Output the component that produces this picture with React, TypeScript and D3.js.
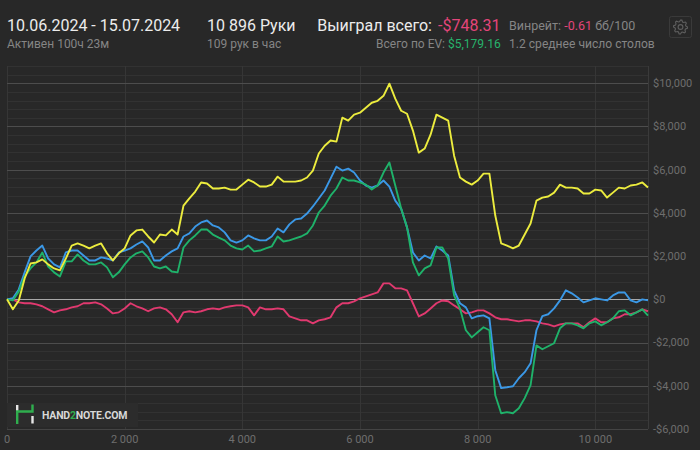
import React from 'react';
import * as d3 from 'd3';

// hands played (x) — every 100 hands plus the last hand
const hands = d3.range(0, 10801, 100).concat([10896]);

// cumulative winnings in $
const evWon = [
  0, -460, -50, 970, 1660, 1710, 1850, 1620, 1430, 1340,
  1890, 2490, 2590, 2490, 2360, 2490, 2590, 2130, 1800, 2130,
  2360, 2960, 3190, 3230, 2910, 2630, 3000, 2960, 3230, 3000,
  4340, 4670, 4990, 5410, 5360, 5130, 5130, 5170, 5080, 5080,
  5310, 5540, 5410, 5220, 5220, 5310, 5680, 5450, 5450, 5450,
  5500, 5640, 5960, 6750, 7110, 7350, 7300, 8410, 8270, 8550,
  8640, 8870, 9100, 9190, 9420, 9980, 9290, 8730, 8590, 7810,
  6790, 6980, 7620, 8550, 8410, 8270, 6650, 5640, 5450, 5310,
  5500, 5820, 5820, 3880, 2590, 2490, 2360, 2490, 3000, 3510,
  4570, 4710, 4760, 4940, 5310, 5170, 5170, 5130, 4900, 4900,
  5080, 5040, 4710, 4940, 5170, 5130, 5270, 5310, 5410, 5180,
];

const showdownWon = [
  0, 50, 460, 1250, 1990, 2260, 2490, 1890, 1620, 1480,
  2170, 2260, 2260, 2030, 1800, 1800, 1940, 1890, 1800, 2170,
  2260, 2360, 2540, 2680, 2400, 1800, 1800, 2030, 2220, 2360,
  2910, 3050, 3370, 3560, 3650, 3420, 3330, 3100, 2730, 2630,
  2730, 2960, 2820, 2730, 2730, 2910, 3280, 3100, 3470, 3700,
  3740, 3970, 4300, 4670, 5040, 5590, 6140, 5960, 6050, 5870,
  5500, 5270, 5170, 5270, 5500, 5220, 4570, 4200, 3330, 2170,
  1800, 2030, 1890, 2450, 2260, 2030, 420, -180, -370, -880,
  -780, -740, -880, -3280, -4110, -4070, -4020, -3650, -3370, -2960,
  -1430, -780, -690, -420, -50, 420, 280, 90, -140, -50,
  50, 0, -50, 180, 320, 320, -50, -140, 0, -50,
];

const netWon = [
  0, -50, 370, 1060, 1430, 1710, 2170, 1520, 1250, 1060,
  1760, 1760, 2080, 1800, 1620, 1620, 1710, 1480, 1020, 1250,
  1620, 1940, 2130, 2220, 1940, 1520, 1430, 1520, 1290, 1250,
  2400, 2730, 2960, 3230, 3230, 3000, 2860, 2730, 2490, 2360,
  2310, 2490, 2220, 2260, 2360, 2450, 2910, 2680, 2730, 2820,
  2910, 3050, 3420, 4020, 4340, 4800, 5130, 5640, 5500, 5500,
  5410, 5310, 5080, 5270, 5870, 6330, 5270, 4200, 3330, 1710,
  1110, 1430, 1570, 2400, 2400, 1890, 180, -420, -1430, -1760,
  -1520, -1290, -1430, -4440, -5270, -5220, -5270, -5040, -4570, -3970,
  -2130, -2310, -2170, -2030, -1340, -1110, -1110, -1200, -1340, -1110,
  -1020, -1200, -1060, -880, -550, -510, -740, -600, -460, -748,
];

const nonShowdownWon = [
  0, 0, -140, -180, -180, -230, -320, -460, -600, -510,
  -460, -370, -320, -180, -180, -140, -230, -420, -650, -600,
  -420, -180, -320, -420, -550, -420, -370, -460, -690, -1060,
  -600, -550, -600, -550, -460, -420, -460, -370, -320, -280,
  -280, -370, -740, -370, -460, -460, -420, -460, -790, -880,
  -970, -970, -1110, -970, -920, -830, -370, -180, -180, -90,
  50, 140, 230, 320, 740, 740, 510, 510, 420, -180,
  -790, -650, -420, -180, -50, -90, -280, -460, -650, -600,
  -510, -510, -650, -830, -920, -920, -970, -1020, -970, -970,
  -1020, -1110, -1160, -1250, -1160, -1110, -1110, -1110, -1290, -1060,
  -880, -1060, -1060, -880, -830, -690, -690, -600, -460, -550,
];

const xTicks = [0, 2000, 4000, 6000, 8000, 10000];
const yTicks = [-6000, -4000, -2000, 0, 2000, 4000, 6000, 8000, 10000];

const series = [
  { name: 'nonShowdown', values: nonShowdownWon, color: '#e0396f' },
  { name: 'showdown', values: showdownWon, color: '#3b98e6' },
  { name: 'net', values: netWon, color: '#1fb26a' },
  { name: 'ev', values: evWon, color: '#ecec3e' },
];

const W = 700;
const H = 450;
const BG = '#282828';
const FONT = 'Roboto, "Noto Sans", sans-serif';

const GearIcon: React.FC<{ cx: number; cy: number }> = ({ cx, cy }) => {
  const pts: [number, number][] = [];
  const teeth = 8;
  for (let i = 0; i < teeth * 4; i++) {
    const a = (i / (teeth * 4)) * Math.PI * 2;
    const r = i % 4 === 0 || i % 4 === 1 ? 7 : 5.4;
    pts.push([cx + r * Math.cos(a), cy + r * Math.sin(a)]);
  }
  const line = d3.line().curve(d3.curveLinearClosed);
  return (
    <g>
      <rect x={669.5} y={16.5} width={22} height={21} rx={2} fill="none" stroke="#3a3a3a" />
      <path d={line(pts) || ''} fill="none" stroke="#5e5e5e" strokeWidth={1.1} />
      <circle cx={cx} cy={cy} r={2.4} fill="none" stroke="#5e5e5e" strokeWidth={1.1} />
    </g>
  );
};

const App: React.FC = () => {
  const left = 7;
  const right = 648;
  const top = 66;
  const bottom = 429;

  const x = d3.scaleLinear().domain([0, 10896]).range([left, right]);
  const y = d3.scaleLinear().domain([-6000, 10800]).range([bottom, top]);

  const minorTicks = d3.range(-6000, 10801, 400).filter(v => v % 2000 !== 0);

  const line = d3.line<number>()
    .x((_, i) => x(hands[i]))
    .y(d => y(d))
    .curve(d3.curveLinear);

  return (
    <svg width={W} height={H} style={{ position: 'absolute', left: 0, top: 0, background: BG, fontFamily: FONT }}>
      <rect width={W} height={H} fill={BG} />

      {/* header */}
      <g>
        <text x={7} y={31} fontSize={16} fill="#ececec">10.06.2024 - 15.07.2024</text>
        <text x={7} y={48} fontSize={12} fill="#858585">Активен 100ч 23м</text>
        <text x={207} y={31} fontSize={16} fill="#ececec">10 896 Руки</text>
        <text x={207} y={48} fontSize={12} fill="#858585">109 рук в час</text>
        <text x={432} y={31} fontSize={16} fill="#ececec" textAnchor="end">Выиграл всего:</text>
        <text x={438} y={31} fontSize={16} fill="#e4457a">-$748.31</text>
        <text x={445} y={48} fontSize={12} fill="#858585" textAnchor="end">Всего по EV:</text>
        <text x={448} y={48} fontSize={12} fill="#27b36c">$5,179.16</text>
        <text x={509} y={30} fontSize={12.5} fill="#858585">
          Винрейт: <tspan fill="#e4457a">-0.61</tspan> бб/100
        </text>
        <text x={509} y={48} fontSize={12.1} fill="#858585">1.2 среднее число столов</text>
        <GearIcon cx={680.5} cy={27} />
      </g>

      {/* grid */}
      <g shapeRendering="crispEdges">
        {minorTicks.map(v => (
          <line key={'m' + v} x1={left} x2={right} y1={Math.round(y(v)) + 0.5} y2={Math.round(y(v)) + 0.5} stroke="#323232" />
        ))}
        {xTicks.map(v => (
          <line key={'v' + v} x1={Math.round(x(v)) + 0.5} x2={Math.round(x(v)) + 0.5} y1={top} y2={bottom} stroke="#363636" />
        ))}
        {yTicks.map(v => (
          <line key={'M' + v} x1={left} x2={right} y1={Math.round(y(v)) + 0.5} y2={Math.round(y(v)) + 0.5}
            stroke={v === 0 ? '#a8a8a8' : '#4d4d4d'} />
        ))}
        <line x1={right + 0.5} x2={right + 0.5} y1={top} y2={bottom} stroke="#3a3a3a" />
        <line x1={left} x2={right} y1={bottom + 0.5} y2={bottom + 0.5} stroke="#444" />
      </g>

      {/* watermark */}
      <g>
        <rect x={7} y={403} width={131} height={24} fill="#2c2c2c" />
        <rect x={16} y={405} width={2.4} height={6} fill="#e6e6e6" />
        <path d="M17.2 424 L17.2 411.5 L32.5 411.5 L32.5 404.5" fill="none" stroke="#2fae4e" strokeWidth={2.4} />
        <rect x={31.3} y={416} width={2.4} height={7.5} fill="#e6e6e6" />
        <text x={42} y={418.5} fontSize={10.5} fontWeight="bold" fill="#d8d8d8" letterSpacing={-0.2}>
          HAND<tspan fill="#2fae4e">2</tspan>NOTE.COM
        </text>
      </g>

      {/* series */}
      <g fill="none" strokeWidth={1.9} strokeLinejoin="round">
        {series.map(s => (
          <path key={s.name} d={line(s.values) || ''} stroke={s.color} />
        ))}
      </g>

      {/* y axis labels */}
      <g fontSize={11} fill="#6e6e6e">
        {yTicks.map(v => (
          <text key={v} x={653} y={y(v)} dy="0.35em">
            {(v < 0 ? '-$' : '$') + d3.format(',')(Math.abs(v))}
          </text>
        ))}
      </g>

      {/* x axis labels */}
      <g fontSize={11} fill="#6e6e6e" textAnchor="middle">
        {xTicks.map(v => (
          <text key={v} x={x(v)} y={443}>
            {d3.format(',')(v).replace(/,/g, ' ')}
          </text>
        ))}
      </g>
    </svg>
  );
};

export default App;
